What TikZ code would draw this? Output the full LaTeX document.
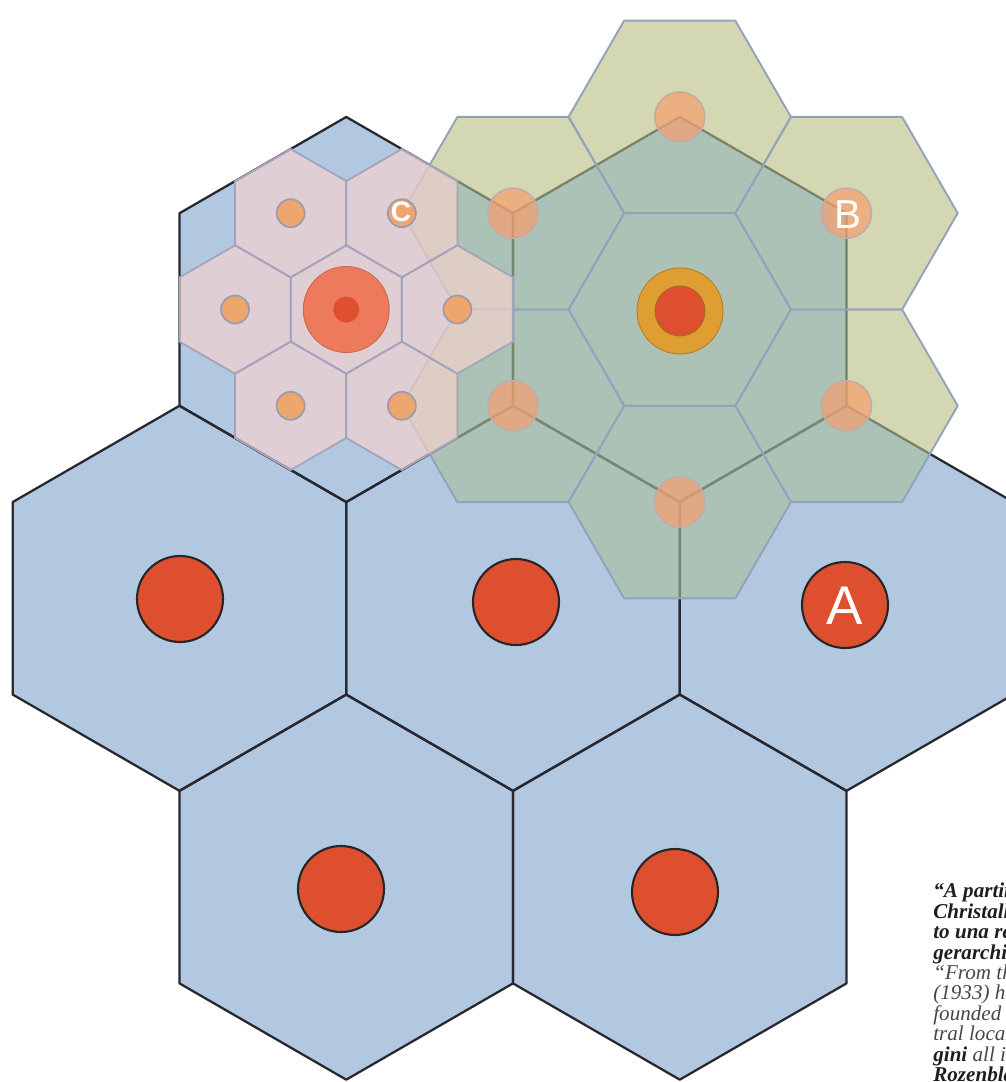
\documentclass[tikz,border=0pt]{standalone}
\usepackage{fontspec}
\setmainfont{Liberation Serif}
\setsansfont{Liberation Sans}

\definecolor{areablue}{RGB}{178,199,224}
\definecolor{rimdark}{RGB}{40,40,48}
\definecolor{olivepale}{RGB}{183,190,127}
\definecolor{tealpale}{RGB}{170,192,154}
\definecolor{greenrim}{RGB}{146,163,188}
\definecolor{pinkpale}{RGB}{252,212,206}
\definecolor{pinkrim}{RGB}{163,163,190}
\definecolor{dotorange}{RGB}{236,166,110}
\definecolor{dotrim}{RGB}{160,155,172}
\definecolor{midorange}{RGB}{244,160,112}
\definecolor{midrim}{RGB}{196,170,168}
\definecolor{salmon}{RGB}{237,122,92}
\definecolor{townred}{RGB}{221,79,47}
\definecolor{ringgold}{RGB}{222,158,50}
\definecolor{captiongray}{RGB}{30,30,30}
\definecolor{captionsoft}{RGB}{70,70,70}

\newcommand{\hexcell}[4]{(#1,#2) +(#4:#3) -- +(#4+60:#3) -- +(#4+120:#3)
  -- +(#4+180:#3) -- +(#4+240:#3) -- +(#4+300:#3) -- cycle}

\begin{document}
\begin{tikzpicture}[x=0.02cm, y=-0.02cm,
    rimline/.style={draw=rimdark, line width=1.3pt, line join=round},
    greencell/.style={fill opacity=0.6},
    greenline/.style={draw=greenrim, line width=1.1pt, line join=round},
    pinkcell/.style={fill=pinkpale, fill opacity=0.62},
    pinkline/.style={draw=pinkrim, line width=1pt, line join=round},
    towndot/.style={fill=townred, draw=black!85, line width=1.2pt},
    middot/.style={fill=midorange, fill opacity=0.72, draw=midrim, line width=0.9pt},
    smalldot/.style={fill=dotorange, draw=dotrim, line width=1pt},
    letter/.style={text=white, font=\sffamily, inner sep=0pt},
    captext/.style={anchor=north west, align=left, inner sep=0pt,
      text=captiongray, font=\fontsize{12pt}{11.6pt}\selectfont}
  ]
  \useasboundingbox (0,0) rectangle (1006,1082);
  \clip (0,0) rectangle (1006,1082);

  \foreach \cx/\cy in {346.25/309.5, 679.75/309.5, 179.5/598.3, 513/598.3,
      846.5/598.3, 346.25/887.1, 679.75/887.1}
    \fill[areablue] \hexcell{\cx}{\cy}{192.55}{30};
  \foreach \cx/\cy in {346.25/309.5, 679.75/309.5, 179.5/598.3, 513/598.3,
      846.5/598.3, 346.25/887.1, 679.75/887.1}
    \draw[rimline] \hexcell{\cx}{\cy}{192.55}{30};

  \begin{scope}[even odd rule]
    \clip (0,0) rectangle (1006,1082)
      foreach \cx/\cy in {346.25/309.5, 679.75/309.5, 179.5/598.3,
        513/598.3, 846.5/598.3} {\hexcell{\cx}{\cy}{192.55}{30}};
    \foreach \cx/\cy in {679.75/309.5, 679.75/116.95, 846.5/213.2, 846.5/405.8,
        679.75/502.05, 513/405.8, 513/213.2}
      \fill[greencell, olivepale, nonzero rule] \hexcell{\cx}{\cy}{111.2}{0};
  \end{scope}
  \begin{scope}
    \clip foreach \cx/\cy in {346.25/309.5, 679.75/309.5, 179.5/598.3,
        513/598.3, 846.5/598.3} {\hexcell{\cx}{\cy}{192.55}{30}};
    \foreach \cx/\cy in {679.75/309.5, 679.75/116.95, 846.5/213.2, 846.5/405.8,
        679.75/502.05, 513/405.8, 513/213.2}
      \fill[greencell, tealpale] \hexcell{\cx}{\cy}{111.2}{0};
  \end{scope}
  \foreach \cx/\cy in {679.75/309.5, 679.75/116.95, 846.5/213.2, 846.5/405.8,
      679.75/502.05, 513/405.8, 513/213.2}
    \draw[greenline] \hexcell{\cx}{\cy}{111.2}{0};

  \foreach \cx/\cy in {346.25/309.5, 457.4/309.5, 235.1/309.5, 401.85/213.2,
      290.65/213.2, 401.85/405.8, 290.65/405.8}
    \fill[pinkcell] \hexcell{\cx}{\cy}{64.2}{30};
  \foreach \cx/\cy in {346.25/309.5, 457.4/309.5, 235.1/309.5, 401.85/213.2,
      290.65/213.2, 401.85/405.8, 290.65/405.8}
    \draw[pinkline] \hexcell{\cx}{\cy}{64.2}{30};

  \draw[towndot] (180,599) circle (43);
  \draw[towndot] (516,602) circle (43);
  \draw[towndot] (845,605) circle (43);
  \draw[towndot] (341,889) circle (43);
  \draw[towndot] (675,892) circle (43);
  \node[letter, font=\sffamily\fontsize{31pt}{31pt}\selectfont] (labA) at (845,606) {A};

  \fill[ringgold, draw=ringgold!80!black, line width=0.5pt] (680,311) circle (43);
  \fill[townred, draw=ringgold!70!black, line width=0.5pt] (680,311) circle (25);

  \foreach \cx/\cy in {679.75/116.95, 846.5/213.2, 846.5/405.8,
      679.75/502.05, 513/405.8, 513/213.2}
    \draw[middot] (\cx,\cy) circle (25);
  \node[letter, font=\sffamily\fontsize{23pt}{23pt}\selectfont] (labB) at (848,215) {B};

  \fill[salmon, draw=salmon!85!black, line width=0.5pt] (346.25,309.5) circle (43);
  \fill[townred] (346.25,309.5) circle (13);
  \foreach \cx/\cy in {457.4/309.5, 235.1/309.5, 401.85/213.2,
      290.65/213.2, 401.85/405.8, 290.65/405.8}
    \draw[smalldot] (\cx,\cy) circle (14);
  \node[letter, font=\sffamily\bfseries\fontsize{16pt}{16pt}\selectfont] (labC) at (401,212) {C};

  \node[captext] (note) at (933,883) {%
    {\bfseries\itshape “A partire}\\
    {\bfseries\itshape Christaller}\\
    {\bfseries\itshape to una rete}\\
    {\bfseries\itshape gerarchia}\\
    {\itshape\color{captionsoft} “From the}\\
    {\itshape\color{captionsoft} (1933) he}\\
    {\itshape\color{captionsoft} founded on}\\
    {\itshape\color{captionsoft} tral location}\\
    {\bfseries\itshape gini} {\itshape\color{captionsoft} all in}\\
    {\bfseries\itshape Rozenblat}};
\end{tikzpicture}
\end{document}
